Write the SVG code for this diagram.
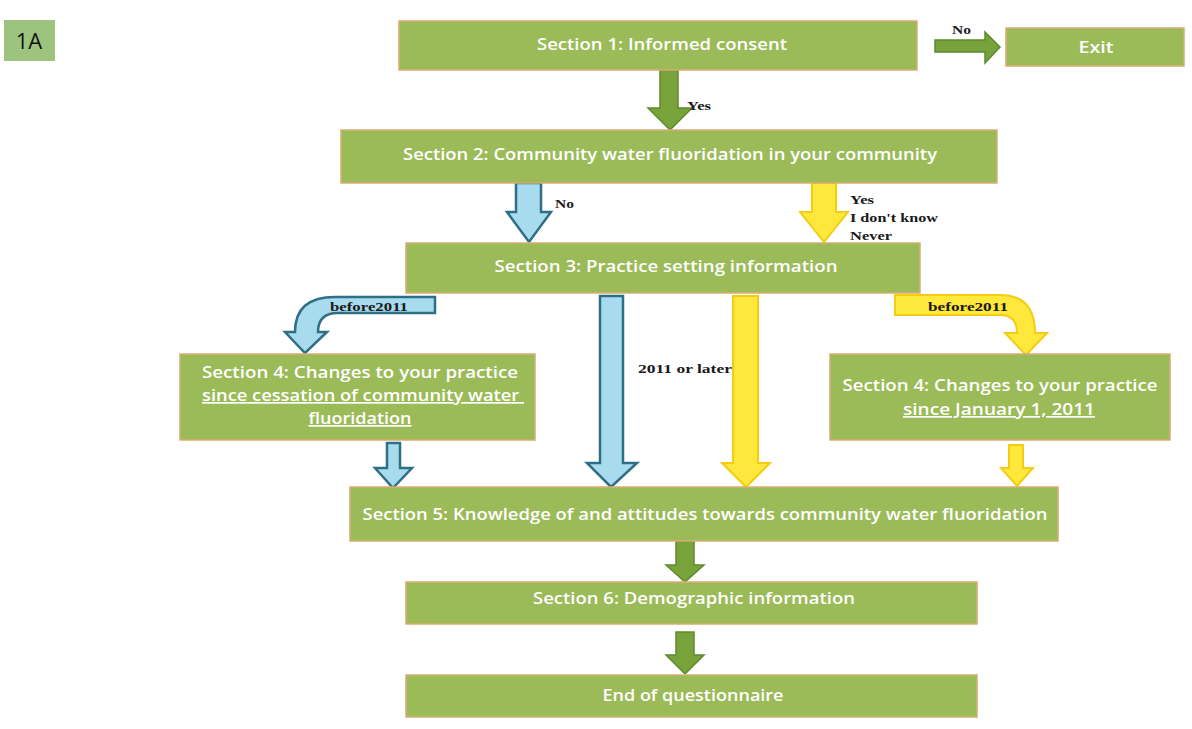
<svg xmlns="http://www.w3.org/2000/svg" width="1192" height="729" viewBox="0 0 1192 729">
<style>
.box{fill:#9bbb59;stroke:#d9ad72;stroke-width:1.5}
.bt{fill:#ffffff;font-family:"Open Sans","Noto Sans",sans-serif;font-weight:600;font-size:17px;text-anchor:middle}
.u{text-decoration:underline}
.lbl{fill:#1a1a1a;font-family:"Liberation Serif",serif;font-weight:bold;font-size:13px}
.ag{fill:#77a33a;stroke:#5e8a2e;stroke-width:1.5}
.ab{fill:#a9dbee;stroke:#2f6f86;stroke-width:2.5}
.ay{fill:#ffe83c;stroke:#f5cc12;stroke-width:2}
</style>
<rect width="1192" height="729" fill="#ffffff"/>
<g id="tag">
<rect x="4" y="20" width="51" height="41" fill="#9dc47f"/>
<text x="29" y="49" font-family="Open Sans, sans-serif" font-weight="500" font-size="22" fill="#111" text-anchor="middle">1A</text>
</g>
<g id="connectors">
<path class="ag" d="M660,70 L678,70 L678,108 L692,108 L670,130 L648,108 L660,108 Z"/>
<path class="ag" d="M935,40 L985,40 L985,32 L1000,47 L985,63 L985,52 L935,52 Z"/>
<path class="ab" d="M516,183 L541,183 L541,212 L551,212 L529,242 L507,212 L516,212 Z"/>
<path class="ay" d="M812,183 L836,183 L836,212 L848,212 L824,242 L800,212 L812,212 Z"/>
<path class="ab" d="M435,297 L335,297 Q295,297 295,332 L285,332 L305,353 L327,332 L318,332 Q318,313 338,313 L435,313 Z"/>
<path class="ay" d="M895,295 L1000,295 Q1035,295 1035,333 L1047,333 L1026,355 L1005,333 L1017,333 Q1017,315 1000,315 L895,315 Z"/>
<path class="ab" d="M600,296 L623,296 L623,463 L637,463 L611,487 L587,463 L600,463 Z"/>
<path class="ay" d="M733,296 L758,296 L758,463 L770,463 L746,487 L722,463 L733,463 Z"/>
<path class="ab" d="M387,443 L400,443 L400,468 L412,468 L393,488 L375,468 L387,468 Z"/>
<path class="ay" d="M1009,445 L1023,445 L1023,468 L1033,468 L1017,486 L1001,468 L1009,468 Z"/>
<path class="ag" d="M676,541 L694,541 L694,565 L704,565 L685,582 L666,565 L676,565 Z"/>
<path class="ag" d="M676,632 L694,632 L694,655 L704,655 L685,674 L666,655 L676,655 Z"/>
<text class="lbl" x="687" y="110" textLength="24" lengthAdjust="spacingAndGlyphs">Yes</text>
<text class="lbl" x="952" y="34" textLength="19" lengthAdjust="spacingAndGlyphs">No</text>
<text class="lbl" x="555" y="208" textLength="19" lengthAdjust="spacingAndGlyphs">No</text>
<text class="lbl" x="850" y="204" textLength="24" lengthAdjust="spacingAndGlyphs">Yes</text>
<text class="lbl" x="850" y="222" textLength="88" lengthAdjust="spacingAndGlyphs">I don't know</text>
<text class="lbl" x="850" y="240" textLength="42" lengthAdjust="spacingAndGlyphs">Never</text>
<text class="lbl" x="330" y="311" font-size="12" textLength="78" lengthAdjust="spacingAndGlyphs">before2011</text>
<text class="lbl" x="928" y="311" font-size="12" textLength="80" lengthAdjust="spacingAndGlyphs">before2011</text>
<text class="lbl" x="638" y="373" textLength="94" lengthAdjust="spacingAndGlyphs">2011 or later</text>
</g>
<g id="s1">
<rect class="box" x="399" y="21" width="518" height="49"/>
<text class="bt" x="662" y="50" textLength="250" lengthAdjust="spacingAndGlyphs">Section 1: Informed consent</text>
</g>
<g id="exit">
<rect class="box" x="1006" y="28" width="178" height="38"/>
<text class="bt" x="1096" y="53" textLength="35" lengthAdjust="spacingAndGlyphs">Exit</text>
</g>
<g id="s2">
<rect class="box" x="341" y="130" width="656" height="53"/>
<text class="bt" x="670" y="160" textLength="534" lengthAdjust="spacingAndGlyphs">Section 2: Community water fluoridation in your community</text>
</g>
<g id="s3">
<rect class="box" x="406" y="243" width="514" height="50"/>
<text class="bt" x="666" y="272" textLength="343" lengthAdjust="spacingAndGlyphs">Section 3: Practice setting information</text>
</g>
<g id="s4a">
<rect class="box" x="180" y="354" width="355" height="86"/>
<text class="bt" x="360" y="378" textLength="316" lengthAdjust="spacingAndGlyphs">Section 4: Changes to your practice</text>
<text class="bt u" x="363" y="401" textLength="322" lengthAdjust="spacingAndGlyphs">since cessation of community water&#160;</text>
<text class="bt u" x="360" y="424" textLength="103" lengthAdjust="spacingAndGlyphs">fluoridation</text>
</g>
<g id="s4b">
<rect class="box" x="830" y="354" width="340" height="86"/>
<text class="bt" x="1000" y="391" textLength="315" lengthAdjust="spacingAndGlyphs">Section 4: Changes to your practice</text>
<text class="bt u" x="999" y="415" textLength="192" lengthAdjust="spacingAndGlyphs">since January 1, 2011</text>
</g>
<g id="s5">
<rect class="box" x="350" y="487" width="708" height="54"/>
<text class="bt" x="705" y="520" textLength="685" lengthAdjust="spacingAndGlyphs">Section 5: Knowledge of and attitudes towards community water fluoridation</text>
</g>
<g id="s6">
<rect class="box" x="406" y="582" width="571" height="42"/>
<text class="bt" x="694" y="604" textLength="322" lengthAdjust="spacingAndGlyphs">Section 6: Demographic information</text>
</g>
<g id="end">
<rect class="box" x="406" y="675" width="571" height="42"/>
<text class="bt" x="693" y="701" textLength="181" lengthAdjust="spacingAndGlyphs">End of questionnaire</text>
</g>
</svg>
